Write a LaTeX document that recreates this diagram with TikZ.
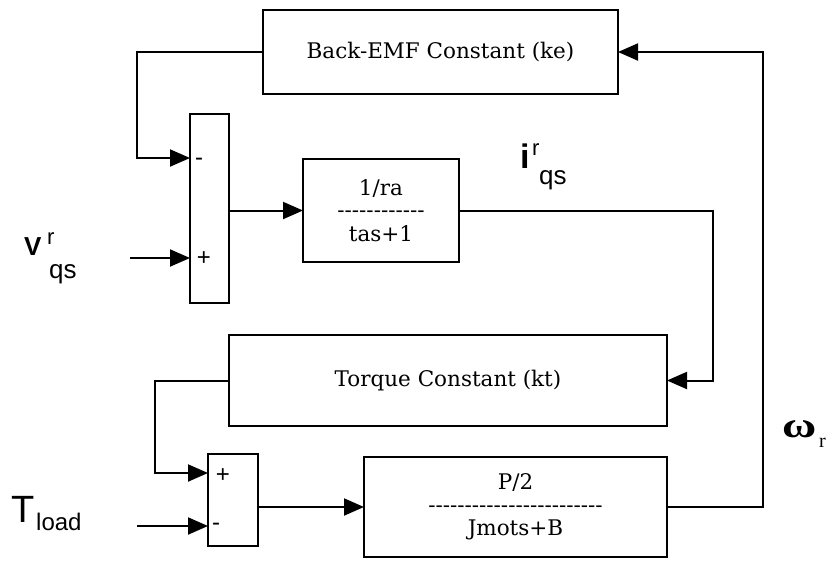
\documentclass[tikz,border=0pt]{standalone}
\usepackage{fontspec}
\setmainfont{DejaVu Serif}[Ligatures=TeXOff]
\newfontfamily\labfont{Liberation Sans}
\newfontfamily\grkfont{Liberation Serif}
\usetikzlibrary{arrows.meta}
\tikzset{
  blk/.style={draw, line width=2pt, inner sep=0pt, outer sep=0pt, align=center,
              font=\fontsize{21.5}{23.5}\selectfont},
  arr/.style={line width=2pt, -{Triangle[length=20pt,width=17pt]}},
  sgn/.style={font=\labfont\fontsize{24}{24}\selectfont, inner sep=0pt},
  lab/.style={font=\labfont, inner sep=0pt, anchor=base west},
}
\begin{document}
\begin{tikzpicture}[x=1pt,y=-1pt]
\useasboundingbox (0,0) rectangle (827,560);
% blocks
\node[blk, minimum width=355pt, minimum height=84pt] (bemf) at (440.5,52) {Back-EMF Constant (ke)};
\node[blk, minimum width=39pt, minimum height=189pt] (sum1) at (209.5,208.5) {};
\node[blk, minimum width=156pt, minimum height=103pt] (tf1) at (381,210.5) {1/ra\\[-1pt]------------\\tas+1};
\node[blk, minimum width=438pt, minimum height=91pt] (kt) at (448,380.5) {Torque Constant (kt)};
\node[blk, minimum width=50pt, minimum height=92pt] (sum2) at (233,500) {};
\node[blk, minimum width=303pt, minimum height=100pt] (tf2) at (515.5,507) {P/2\\[-1pt]------------------------\\Jmots+B};
% signs
\node[sgn] (s1ms) at (199,162) {-};
\node[sgn] (s1ps) at (204,259) {+};
\node[sgn] (s2ps) at (223,476) {+};
\node[sgn] (s2ms) at (216,527) {-};
% ports
\coordinate (c1) at (137,158);
\coordinate (s1m) at (190,158);
\coordinate (vin) at (130,258);
\coordinate (s1p) at (190,258);
\coordinate (c3) at (155,473);
\coordinate (s2p) at (208,473);
\coordinate (tin) at (137,526);
\coordinate (s2m) at (208,526);
% connectors
\draw[arr] (bemf.west) -| (c1) -- (s1m);
\draw[arr] (vin) -- (s1p);
\draw[arr] (sum1.east |- tf1.west) -- (tf1.west);
\draw[arr] (tf1.east) -- ++(254,0) |- (kt.east);
\draw[arr] (kt.west) -| (c3) -- (s2p);
\draw[arr] (tin) -- (s2m);
\draw[arr] (sum2.east |- tf2.west) -- (tf2.west);
\draw[arr] (tf2.east) -- ++(96,0) |- (bemf.east);
% labels
\node[lab, font=\labfont\bfseries\fontsize{26}{26}\selectfont] (vlab) at (24,255) {V};
\node[lab, font=\labfont\fontsize{22}{22}\selectfont] (vsup) at (47,244) {r};
\node[lab, font=\labfont\fontsize{26}{26}\selectfont] (vsub) at (49,278) {qs};
\node[lab, font=\labfont\bfseries\fontsize{34}{34}\selectfont] (ilab) at (520,168) {i};
\node[lab, font=\labfont\fontsize{22}{22}\selectfont] (isup) at (532,155) {r};
\node[lab, font=\labfont\fontsize{26}{26}\selectfont] (isub) at (539,184) {qs};
\node[lab, font=\labfont\fontsize{38}{38}\selectfont] (tlab) at (11,522) {T};
\node[lab, font=\labfont\fontsize{24}{24}\selectfont] (tsub) at (36,530) {load};
\node[lab, font=\grkfont\bfseries\fontsize{36}{36}\selectfont] (wlab) at (782,437) {\scalebox{1.3}[1]{ω}};
\node[lab, font=\grkfont\fontsize{20}{20}\selectfont] (wsub) at (819,447) {r};
\end{tikzpicture}
\end{document}
